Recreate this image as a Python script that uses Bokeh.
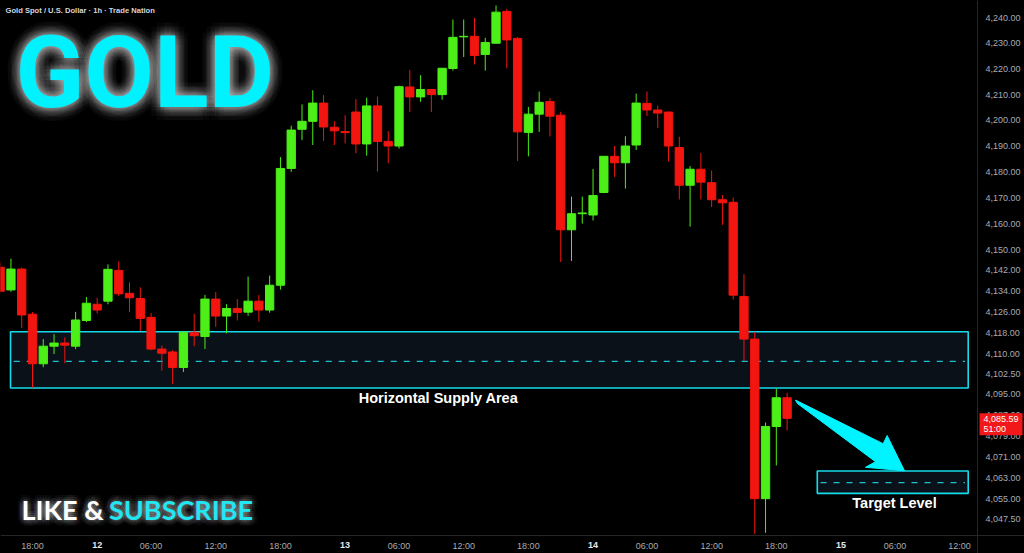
import math
from bokeh.plotting import figure
from bokeh.models import (Range1d, FixedTicker, NumeralTickFormatter, Label, LogAxis,
                          LinearAxis, GlobalInlineStyleSheet, ColumnDataSource)
from bokeh.embed import file_html
from bokeh.resources import INLINE

# ---------------- data (1h candles, bar index 0 = 11th 18:00) ----------------
first_bar = -3
opens = [4143.2, 4134.5, 4142.5, 4125.2, 4106.3, 4113.0, 4114.2, 4113.0, 4122.8, 4129.0,
         4130.2, 4142.0, 4133.2, 4131.2, 4124.0, 4111.9, 4110.8, 4104.9, 4118.3, 4116.7,
         4131.0, 4124.5, 4127.4, 4126.0, 4130.2, 4126.8, 4136.3, 4181.3, 4196.5, 4199.6,
         4206.7, 4197.3, 4195.6, 4203.2, 4190.8, 4205.6, 4191.8, 4190.0, 4213.0, 4209.1,
         4212.0, 4210.0, 4220.2, 4232.6, 4232.8, 4225.7, 4230.1, 4242.6, 4232.0, 4195.3,
         4202.4, 4207.3, 4202.0, 4157.6, 4163.8, 4163.3, 4172.0, 4186.0, 4183.5, 4190.4,
         4206.6, 4204.0, 4203.2, 4189.4, 4174.8, 4181.0, 4175.8, 4169.2, 4168.2, 4132.0,
         4115.7, 4055.3, 4082.5, 4093.4]
highs = [4145.0, 4146.5, 4143.0, 4126.0, 4115.7, 4117.6, 4116.4, 4126.1, 4131.8, 4131.5,
         4144.3, 4145.5, 4137.4, 4135.5, 4125.7, 4113.3, 4111.5, 4118.8, 4125.4, 4132.6,
         4133.7, 4129.0, 4131.0, 4139.6, 4132.6, 4140.0, 4185.7, 4197.9, 4206.2, 4211.7,
         4209.8, 4199.6, 4202.0, 4208.2, 4208.8, 4209.2, 4195.8, 4213.5, 4219.6, 4217.6,
         4212.2, 4220.4, 4239.4, 4239.4, 4240.0, 4232.2, 4244.9, 4243.6, 4232.5, 4205.2,
         4211.2, 4208.6, 4203.3, 4170.4, 4170.4, 4181.1, 4186.1, 4190.0, 4193.8, 4210.4,
         4211.2, 4205.7, 4203.4, 4193.6, 4182.2, 4187.3, 4180.5, 4171.0, 4170.0, 4140.5,
         4118.5, 4084.0, 4096.8, 4095.3]
lows = [4133.5, 4133.8, 4119.9, 4097.2, 4105.0, 4110.0, 4106.5, 4111.9, 4122.2, 4125.5,
        4129.0, 4132.2, 4126.0, 4118.8, 4111.5, 4103.7, 4098.6, 4103.2, 4113.0, 4111.9,
        4120.4, 4117.9, 4122.8, 4124.6, 4122.4, 4125.8, 4134.6, 4180.0, 4192.3, 4190.4,
        4192.0, 4190.4, 4191.0, 4187.2, 4186.3, 4180.1, 4183.3, 4189.0, 4203.2, 4207.2,
        4203.2, 4208.0, 4219.4, 4224.7, 4221.8, 4219.4, 4229.8, 4220.3, 4184.2, 4186.0,
        4195.5, 4193.7, 4145.2, 4145.6, 4160.0, 4161.2, 4171.7, 4178.0, 4173.5, 4188.5,
        4201.6, 4197.0, 4184.0, 4169.3, 4158.8, 4169.3, 4166.4, 4159.5, 4130.8, 4107.4,
        4042.0, 4042.5, 4067.8, 4081.0]
closes = [4134.0, 4142.5, 4124.9, 4106.3, 4113.0, 4114.2, 4113.4, 4123.0, 4129.4, 4126.8,
          4142.4, 4133.0, 4131.5, 4123.6, 4111.9, 4110.3, 4104.9, 4118.3, 4117.0, 4131.0,
          4124.5, 4127.4, 4125.9, 4130.2, 4126.8, 4136.3, 4181.3, 4196.2, 4199.6, 4206.7,
          4197.4, 4195.9, 4195.2, 4190.8, 4205.6, 4191.8, 4190.0, 4213.1, 4209.1, 4212.0,
          4210.0, 4220.3, 4232.4, 4232.8, 4225.3, 4230.4, 4242.3, 4231.4, 4195.5, 4202.4,
          4207.0, 4201.6, 4157.6, 4163.8, 4164.1, 4170.8, 4186.0, 4183.5, 4190.0, 4206.7,
          4204.0, 4202.8, 4190.0, 4174.8, 4181.0, 4176.0, 4169.2, 4168.0, 4132.5, 4115.7,
          4055.3, 4082.5, 4093.4, 4085.59]
bars = list(range(first_bar, first_bar + len(opens)))

time_tick_pos = [0, 6, 11, 17, 23, 29, 34, 40, 46, 52, 57, 63, 69, 75, 80, 86]
time_tick_labels = ["18:00", "12", "06:00", "12:00", "18:00", "13", "06:00", "12:00",
                    "18:00", "14", "06:00", "12:00", "18:00", "15", "06:00", "12:00"]
day_labels = ["12", "13", "14", "15"]
price_ticks = [4047.5, 4055, 4063, 4071, 4079, 4087, 4095, 4102.5, 4110, 4118, 4126,
               4134, 4142, 4150, 4160, 4170, 4180, 4190, 4200, 4210, 4220, 4230, 4240]
last_price = 4085.59
countdown = "51:00"

# zones (bar index / price)
supply_x = [-2.04, 86.8]
supply_y = [4097.1, 4118.5]
supply_mid = 4107.2
target_x = [72.8, 86.8]
target_y = [4057.3, 4065.7]
target_mid = 4061.3
arrow_x = [70.78, 78.91, 79.28, 80.89, 77.27, 78.2, 70.96]
arrow_y = [4092.5, 4076.0, 4079.1, 4065.8, 4067.1, 4069.2, 4091.2]

# ---------------- layout helpers (screen px of the 1024x553 page) ----------------
W, H = 1024, 553
AXIS_X_PX, AXIS_Y_PX = 977, 535
BAR_PX = 10.78
X0 = -32 / BAR_PX
X1 = X0 + W / BAR_PX
Y_TOP_PRICE, Y_PX_K = 4240.0, 10792.0


def px_x(px):
    return X0 + px / BAR_PX


def px_y(py):
    return Y_TOP_PRICE * math.exp((17.5 - py) / Y_PX_K)


Y0, Y1 = px_y(H), px_y(0)

p = figure(width=W, height=H, output_backend="svg", toolbar_location=None,
           x_range=Range1d(X0, X1), y_range=Range1d(Y0, Y1),
           y_axis_type="log", x_axis_location=None, y_axis_location=None,
           background_fill_color="#000000", border_fill_color="#000000",
           min_border_left=0, min_border_top=0, min_border_right=0, min_border_bottom=0)
p.stylesheets = [GlobalInlineStyleSheet(css="html,body{margin:0;padding:0;background:#000;overflow:hidden;}")]
p.outline_line_color = None
p.grid.visible = False

AX_COL = "#a8abb3"
ya = LogAxis(fixed_location=px_x(AXIS_X_PX), ticker=FixedTicker(ticks=price_ticks),
             formatter=NumeralTickFormatter(format="0,0.00"))
ya.major_label_text_color = AX_COL
ya.major_label_text_font_size = "9px"
ya.major_label_text_font = "Liberation Sans"
ya.major_tick_line_color = None
ya.major_tick_out = 0
ya.major_tick_in = 0
ya.minor_tick_line_color = None
ya.axis_line_color = "#262626"
ya.major_label_standoff = 8
p.add_layout(ya, "right")

xa = LinearAxis(fixed_location=px_y(AXIS_Y_PX), ticker=FixedTicker(ticks=time_tick_pos))
xa.major_label_overrides = {pos: ("" if lab in day_labels else lab)
                            for pos, lab in zip(time_tick_pos, time_tick_labels)}
xa.major_label_text_color = AX_COL
xa.major_label_text_font_size = "9px"
xa.major_label_text_font = "Liberation Sans"
xa.major_tick_line_color = None
xa.major_tick_out = 0
xa.major_tick_in = 0
xa.minor_tick_line_color = None
xa.axis_line_color = "#262626"
xa.major_label_standoff = 5
p.add_layout(xa, "below")

for pos, lab in zip(time_tick_pos, time_tick_labels):
    if lab in day_labels:
        p.add_layout(Label(x=pos, y=px_y(544.5), text=lab, text_align="center",
                           text_baseline="middle", text_color="#e6e8ee",
                           text_font_size="9px", text_font_style="bold",
                           text_font="Liberation Sans"))

CYAN = "#14dcec"

# supply zone
p.quad(left=[supply_x[0]], right=[supply_x[1]], bottom=[supply_y[0]], top=[supply_y[1]],
       fill_color="#0b1119", line_color=CYAN, line_width=1.6)
p.segment(x0=[supply_x[0] + 0.3], x1=[supply_x[1] - 0.3], y0=[supply_mid], y1=[supply_mid],
          line_color="#1ec3d3", line_width=1.3, line_dash="6 7")

# candles
colors = ["#4cef17" if c >= o else "#f3150f" for o, c in zip(opens, closes)]
src = ColumnDataSource(dict(x=bars, h=highs, l=lows,
                            top=[max(o, c) for o, c in zip(opens, closes)],
                            bottom=[min(o, c) for o, c in zip(opens, closes)],
                            color=colors))
p.segment(x0="x", x1="x", y0="h", y1="l", line_color="color", line_width=1, source=src)
p.vbar(x="x", width=0.77, top="top", bottom="bottom", fill_color="color",
       line_color="color", line_width=1, source=src)

# target zone
p.quad(left=[target_x[0]], right=[target_x[1]], bottom=[target_y[0]], top=[target_y[1]],
       fill_color="#0b1119", line_color=CYAN, line_width=1.6)
p.segment(x0=[target_x[0] + 0.3], x1=[target_x[1] - 0.3], y0=[target_mid], y1=[target_mid],
          line_color="#1ec3d3", line_width=1.3, line_dash="6 7")

# arrow
p.patch(x=arrow_x, y=arrow_y, fill_color="#00f4ff", line_color="#00f4ff", line_width=1)

# zone captions
p.add_layout(Label(x=px_x(438), y=px_y(397), text="Horizontal Supply Area", text_align="center",
                   text_baseline="middle", text_color="#ffffff", text_font_size="14.5px",
                   text_font_style="bold", text_font="Liberation Sans"))
p.add_layout(Label(x=px_x(894), y=px_y(502), text="Target Level", text_align="center",
                   text_baseline="middle", text_color="#ffffff", text_font_size="14.5px",
                   text_font_style="bold", text_font="Liberation Sans"))

# header
p.add_layout(Label(x=px_x(5), y=px_y(10), text="Gold Spot / U.S. Dollar \u00b7 1h \u00b7 Trade Nation",
                   text_baseline="middle", text_color="#d3d5db", text_font_size="7.6px",
                   text_font_style="bold", text_font="Liberation Sans"))


def glow(text, x, y, size, color, font, radii, alpha, n=12):
    for r in radii:
        for k in range(n):
            a = 2 * math.pi * (k + 0.5 * (r % 2)) / n
            p.add_layout(Label(x=x, y=y, x_offset=r * math.cos(a), y_offset=r * math.sin(a),
                               text=text, text_color="#ffffff", text_alpha=alpha,
                               text_font_size=size, text_font_style="bold",
                               text_font=font, text_baseline="alphabetic"))
    p.add_layout(Label(x=x, y=y, text=text, text_color=color, text_font_size=size,
                       text_font_style="bold", text_font=font,
                       text_baseline="alphabetic"))


glow("GOLD", px_x(15), px_y(72), "101px", "#00f2ff",
     "Roboto", [2, 4, 6, 8, 10, 13], 0.022)
glow("LIKE &", px_x(21), px_y(508.5), "27px", "#ffffff", "Lato", [2, 4, 6], 0.04)
glow("SUBSCRIBE", px_x(108.5), px_y(508.5), "27px", "#22e6f2", "Lato", [2, 4, 6], 0.04)

# last price tag on the price scale
p.add_layout(Label(x=px_x(979), y=last_price, y_offset=5,
                   text="%s\n%s" % (format(last_price, ",.2f"), countdown),
                   text_baseline="top", text_color="#ffffff", text_font_size="9px",
                   text_line_height=1.0,
                   text_font="Liberation Sans", background_fill_color="#f01818",
                   padding=dict(left=4, right=4, top=1, bottom=1)))

open("out.html", "w").write(file_html(p, INLINE))
